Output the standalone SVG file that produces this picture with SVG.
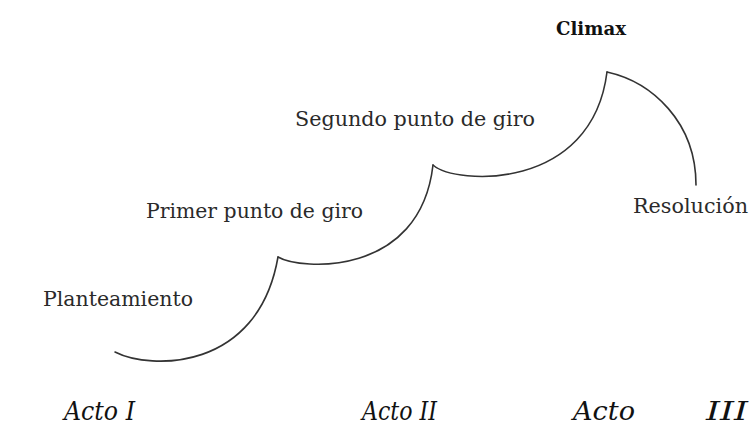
<svg xmlns="http://www.w3.org/2000/svg" width="751" height="426" viewBox="0 0 751 426">
<style>
.lbl{font-family:'DejaVu Serif',serif;font-size:20px;fill:#2a2a2a}
.act{font-family:'DejaVu Serif',serif;font-size:26px;font-style:italic;fill:#111}
.ttl{font-family:'DejaVu Serif',serif;font-size:18px;font-weight:bold;fill:#111}
.curve{fill:none;stroke:#333;stroke-width:1.6;stroke-linecap:round;stroke-linejoin:miter}
</style>
<rect width="751" height="426" fill="#fff"/>
<g id="connectors">
<path class="curve" d="M115,352 C150,370 258,372 278,257"/>
<path class="curve" d="M278,257 C300,270 420,278 433,165"/>
<path class="curve" d="M433,165 C455,185 592,192 607,72"/>
<path class="curve" d="M607,72 C652,82 696,122 696,185"/>
</g>
<g id="climax"><text class="ttl" x="556" y="35" textLength="70" lengthAdjust="spacingAndGlyphs">Climax</text></g>
<g id="segundo"><text class="lbl" x="295" y="126" textLength="240" lengthAdjust="spacingAndGlyphs">Segundo punto de giro</text></g>
<g id="primer"><text class="lbl" x="146" y="218" textLength="217" lengthAdjust="spacingAndGlyphs">Primer punto de giro</text></g>
<g id="planteamiento"><text class="lbl" x="43" y="306" textLength="150" lengthAdjust="spacingAndGlyphs">Planteamiento</text></g>
<g id="resolucion"><text class="lbl" x="633" y="213" textLength="115" lengthAdjust="spacingAndGlyphs">Resolución</text></g>
<g id="acto1"><text class="act" x="64" y="420" textLength="71" lengthAdjust="spacingAndGlyphs">Acto I</text></g>
<g id="acto2"><text class="act" x="362" y="420" textLength="75" lengthAdjust="spacingAndGlyphs">Acto II</text></g>
<g id="acto3"><text class="act" x="573" y="420" textLength="62" lengthAdjust="spacingAndGlyphs">Acto</text><text class="act" x="706" y="420" textLength="42" lengthAdjust="spacingAndGlyphs">III</text></g>
</svg>
